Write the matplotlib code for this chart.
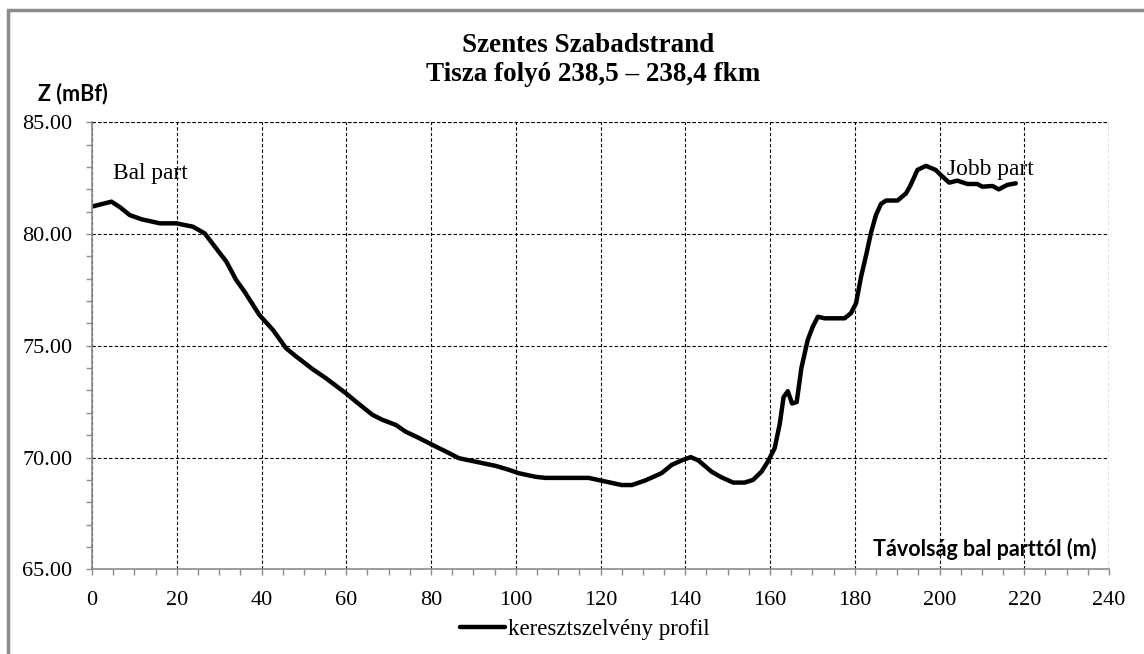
import matplotlib.pyplot as plt
from matplotlib.patches import Rectangle
from matplotlib.ticker import MultipleLocator, FormatStrFormatter

# --- data ---
dist = [0, 4.6, 6.6, 8.9, 11.7, 16, 19.9, 23.8, 26.6, 29.3, 31.7, 34, 36, 39.5,
        42.7, 45.8, 48.2, 52.1, 55.2, 59.9, 62.3, 66.2, 68.5, 71.7, 74, 77.2,
        80.3, 83.5, 86.6, 90.9, 95.2, 98.4, 100.7, 104.6, 107, 117.2, 121.1,
        125, 127.4, 130.5, 134.4, 136.8, 139.1, 141.3, 143.1, 146.2, 148.5,
        151.3, 154, 156, 158, 159.5, 161.1, 162.3, 163.2, 164.2, 165.2, 166.3,
        167.4, 168.9, 170.1, 171.3, 172.9, 177.6, 179.1, 180.3, 181.5, 182.7,
        183.8, 185, 186.2, 187.4, 190.1, 192.1, 193.2, 194.8, 196.8, 199.1,
        200.3, 202.3, 204.2, 206.6, 208.9, 210.1, 212.5, 214, 216, 218]
elev = [81.23, 81.45, 81.2, 80.85, 80.66, 80.48, 80.48, 80.33, 80.03, 79.36,
        78.77, 77.95, 77.42, 76.38, 75.71, 74.89, 74.52, 73.95, 73.55, 72.88,
        72.5, 71.91, 71.69, 71.46, 71.16, 70.87, 70.57, 70.27, 69.97, 69.8,
        69.63, 69.45, 69.3, 69.14, 69.09, 69.09, 68.93, 68.77, 68.77, 68.97,
        69.3, 69.67, 69.87, 70.02, 69.87, 69.37, 69.12, 68.88, 68.88, 69.0,
        69.37, 69.82, 70.42, 71.5, 72.7, 72.97, 72.42, 72.48, 74.0, 75.26,
        75.86, 76.3, 76.23, 76.23, 76.46, 76.9, 78.1, 79.07, 80.03, 80.85,
        81.35, 81.5, 81.5, 81.82, 82.2, 82.87, 83.05, 82.87, 82.64, 82.3,
        82.39, 82.24, 82.24, 82.12, 82.15, 82.0, 82.2, 82.27]

title_lines = ["Szentes Szabadstrand", "Tisza folyó 238,5 – 238,4 fkm"]
series_name = "keresztszelvény profil"

W, H = 1144, 654
fig = plt.figure(figsize=(W / 100, H / 100), dpi=100)
ax = fig.add_axes([92 / W, 1 - 569.3 / H, (1109 - 92) / W, (569.3 - 122.3) / H])

ax.plot(dist, elev, color='black', lw=3.2, solid_capstyle='round', label=series_name)

ax.set_xlim(0, 240)
ax.set_ylim(65, 85)
ax.xaxis.set_major_locator(MultipleLocator(20))
ax.xaxis.set_minor_locator(MultipleLocator(5))
ax.yaxis.set_major_locator(MultipleLocator(5))
ax.yaxis.set_minor_locator(MultipleLocator(1))
ax.yaxis.set_major_formatter(FormatStrFormatter('%.2f'))

# dashed grid, including the top and right edges
dash = (0, (3, 2))
ax.grid(True, which='major', color='black', linestyle=dash, lw=0.8)
for s in ['top', 'right']:
    ax.spines[s].set_visible(False)
ax.axhline(85, color='black', linestyle=dash, lw=0.8)
ax.axvline(240, color='black', linestyle=dash, lw=0.8)
for s in ['left', 'bottom']:
    ax.spines[s].set_color('#8c8c8c')
    ax.spines[s].set_linewidth(1.2)

ax.tick_params(which='both', direction='out', length=4.5, color='#8c8c8c', width=1)
ax.tick_params(axis='x', which='major', labelsize=16, pad=11)
ax.tick_params(axis='y', which='major', labelsize=16, pad=9.5)
for lbl in ax.get_xticklabels() + ax.get_yticklabels():
    lbl.set_family('Liberation Serif')

# title, two lines
fig.text(588 / W, 1 - 52 / H, title_lines[0], fontsize=19.5, fontweight='bold',
         family='Liberation Serif', ha='center', va='baseline')
fig.text(593 / W, 1 - 81 / H, title_lines[1], fontsize=19.5, fontweight='bold',
         family='Liberation Serif', ha='center', va='baseline')

fig.text(38 / W, 1 - 93.5 / H, "Z (mBf)", fontsize=15.5, fontweight='bold',
         family='Lato', va='center', ha='left')

ax.text(4.9, 82.46, "Bal part", fontsize=16.8, family='Liberation Serif')
ax.text(201.7, 82.64, "Jobb part", fontsize=16.8, family='Liberation Serif')
ax.text(237, 65.6, "Távolság bal parttól (m)", fontsize=15.5, fontweight='bold',
        family='Lato', ha='right')

fig.legend(loc='center', bbox_to_anchor=(585 / W, 1 - 629 / H), frameon=False,
           handlelength=1.95, handletextpad=0.13,
           prop={'family': 'Liberation Serif', 'size': 16.5})

# gray chart border
fig.patches.append(Rectangle((8 / W, -0.05), 1.1, 1 - 10 / H + 0.05,
                             transform=fig.transFigure, fill=False,
                             edgecolor='#8c8c8c', lw=2.5))

plt.savefig("out.png", dpi=100)
